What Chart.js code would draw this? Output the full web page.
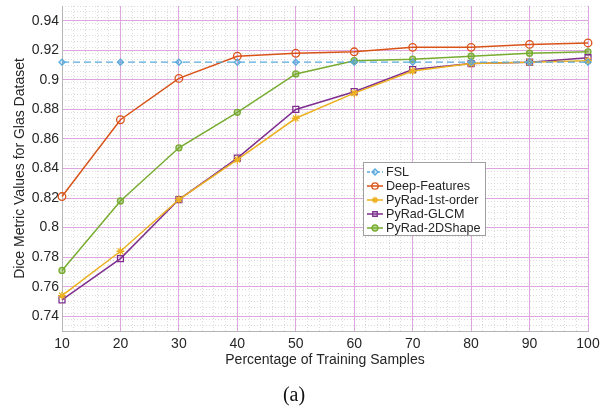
<!DOCTYPE html>
<html><head><meta charset="utf-8">
<script src="https://cdn.jsdelivr.net/npm/chart.js@4/dist/chart.umd.min.js"></script>
<style>html,body{margin:0;padding:0;background:#fff}#wrap{width:602px;height:411px}</style>
</head><body><div id="wrap"><canvas id="c" width="602" height="411"></canvas></div>
<script>
const percentages = [10, 20, 30, 40, 50, 60, 70, 80, 90, 100];
const fsl = [0.912, 0.912, 0.912, 0.912, 0.912, 0.912, 0.912, 0.912, 0.912, 0.912];
const deepFeatures = [0.821, 0.873, 0.901, 0.916, 0.918, 0.919, 0.922, 0.922, 0.924, 0.925];
const pyRad1stOrder = [0.754, 0.784, 0.819, 0.846, 0.874, 0.891, 0.906, 0.911, 0.912, 0.913];
const pyRadGLCM = [0.751, 0.779, 0.819, 0.847, 0.880, 0.892, 0.907, 0.911, 0.912, 0.915];
const pyRad2DShape = [0.771, 0.818, 0.854, 0.878, 0.904, 0.913, 0.914, 0.916, 0.918, 0.919];
const xTickValues = [10, 20, 30, 40, 50, 60, 70, 80, 90, 100];
const yTickValues = [0.74, 0.76, 0.78, 0.80, 0.82, 0.84, 0.86, 0.88, 0.90, 0.92, 0.94];
const seriesNames = ['FSL', 'Deep-Features', 'PyRad-1st-order', 'PyRad-GLCM', 'PyRad-2DShape'];
const xTitle = 'Percentage of Training Samples';
const yTitle = 'Dice Metric Values for Glas Dataset';
const caption = '(a)';

const FONT = "'Liberation Sans', Arial, Helvetica, sans-serif";
const TXT = '#262626';
const MAJOR = '#dea6de';
const MINOR = '#d2d2d2';

function pts(vals) { return vals.map((v, i) => ({ x: percentages[i], y: v })); }

const styles = [
  { color: '#58A9DC', pointStyle: 'rectRot', radius: 3, bg: 'rgba(88,169,220,0.25)', dash: [7, 4], width: 1.3 },
  { color: '#D95319', pointStyle: 'circle', radius: 3.8, bg: 'rgba(255,255,255,0)', dash: [], width: 1.5 },
  { color: '#EDB120', pointStyle: 'star', radius: 4, bg: '#EDB120', dash: [], width: 1.5 },
  { color: '#7E2F8E', pointStyle: 'rect', radius: 4.2, bg: 'rgba(255,255,255,0)', dash: [], width: 1.5 },
  { color: '#77AC30', pointStyle: 'circle', radius: 3, bg: 'rgba(119,172,48,0.45)', dash: [], width: 1.5 }
];
const seriesValues = [fsl, deepFeatures, pyRad1stOrder, pyRadGLCM, pyRad2DShape];

const datasets = seriesValues.map((vals, i) => ({
  label: seriesNames[i],
  data: pts(vals),
  borderColor: styles[i].color,
  backgroundColor: styles[i].bg,
  pointBackgroundColor: styles[i].bg,
  pointBorderColor: styles[i].color,
  pointStyle: styles[i].pointStyle,
  pointRadius: styles[i].radius,
  pointBorderWidth: 1.3,
  borderWidth: styles[i].width,
  borderDash: styles[i].dash,
  tension: 0,
  fill: false,
  clip: false,
  xAxisID: 'x',
  yAxisID: 'y'
}));

const legendBox = {
  id: 'legendBox',
  afterDraw(chart) {
    const ctx = chart.ctx;
    const x0 = 363, y0 = 162, w = 122, h = 73;
    ctx.save();
    ctx.fillStyle = '#fff';
    ctx.fillRect(x0, y0, w, h);
    ctx.strokeStyle = '#a0a0a0';
    ctx.lineWidth = 1;
    ctx.strokeRect(x0 + 0.5, y0 + 0.5, w, h);
    chart.data.datasets.forEach((ds, i) => {
      const y = y0 + 10 + i * 14;
      ctx.strokeStyle = ds.borderColor;
      ctx.lineWidth = ds.borderWidth;
      ctx.setLineDash(ds.borderDash && ds.borderDash.length ? [3, 2] : []);
      ctx.beginPath();
      ctx.moveTo(x0 + 4, y);
      ctx.lineTo(x0 + 20, y);
      ctx.stroke();
      ctx.setLineDash([]);
      ctx.fillStyle = ds.pointBackgroundColor;
      ctx.strokeStyle = ds.pointBorderColor;
      ctx.lineWidth = 1.3;
      Chart.helpers.drawPoint(ctx, { pointStyle: ds.pointStyle, radius: Math.min(ds.pointRadius, 3.2), rotation: 0, borderWidth: 1.3 }, x0 + 12, y);
      ctx.fillStyle = TXT;
      ctx.font = '12.6px ' + FONT;
      ctx.textBaseline = 'middle';
      ctx.textAlign = 'left';
      ctx.fillText(ds.label, x0 + 23, y + 0.5);
    });
    ctx.restore();
  }
};

function noPad(s) { s.paddingTop = 0; s.paddingBottom = 0; s.paddingLeft = 0; s.paddingRight = 0; }

new Chart(document.getElementById('c'), {
  type: 'line',
  data: { datasets },
  options: {
    responsive: false,
    animation: false,
    devicePixelRatio: 1,
    layout: { padding: { left: 0, right: 14, top: 6, bottom: 0 } },
    plugins: {
      legend: { display: false },
      tooltip: { enabled: false },
      title: {
        display: true, position: 'bottom', text: caption, color: '#111',
        font: { family: "'Liberation Serif', 'Times New Roman', serif", size: 20, weight: 'normal' },
        padding: { top: 10, bottom: 3 }
      }
    },
    scales: {
      xMinor: {
        type: 'linear', position: 'bottom', min: 10, max: 100,
        ticks: { display: false, stepSize: 2 },
        grid: { color: MINOR, lineWidth: 0.8, drawTicks: false, z: -1 },
        border: { display: false, dash: [1, 2] },
        afterFit(s) { s.height = 0; noPad(s); }
      },
      yMinor: {
        type: 'linear', position: 'left', min: 0.73, max: 0.95,
        ticks: { display: false, stepSize: 0.004 },
        grid: { color: MINOR, lineWidth: 0.8, drawTicks: false, z: -1 },
        border: { display: false, dash: [1, 2] },
        afterFit(s) { s.width = 0; noPad(s); }
      },
      x: {
        type: 'linear', position: 'bottom', min: 10, max: 100,
        afterBuildTicks(s) { s.ticks = xTickValues.map(v => ({ value: v })); },
        ticks: { color: TXT, font: { family: FONT, size: 14 }, padding: 5, maxRotation: 0, autoSkip: false },
        grid: { color: MAJOR, lineWidth: 1, drawTicks: false },
        border: { display: true, color: '#b5b5b5', width: 1 },
        title: { display: true, text: xTitle, color: TXT, font: { family: FONT, size: 14 }, padding: { top: 0, bottom: 5 } },
        afterFit(s) { s.height = 43; noPad(s); }
      },
      y: {
        type: 'linear', position: 'left', min: 0.73, max: 0.95,
        afterBuildTicks(s) { s.ticks = yTickValues.map(v => ({ value: v })); },
        ticks: { color: TXT, font: { family: FONT, size: 14 }, padding: 3,
          callback: v => String(Number(v.toFixed(2))) },
        grid: { color: MAJOR, lineWidth: 1, drawTicks: false },
        border: { display: true, color: '#b5b5b5', width: 1 },
        title: { display: true, text: yTitle, color: TXT, font: { family: FONT, size: 14 }, padding: { top: 12, bottom: 0 } },
        afterFit(s) { s.width = 62; noPad(s); }
      }
    }
  },
  plugins: [legendBox]
});
</script></body></html>
